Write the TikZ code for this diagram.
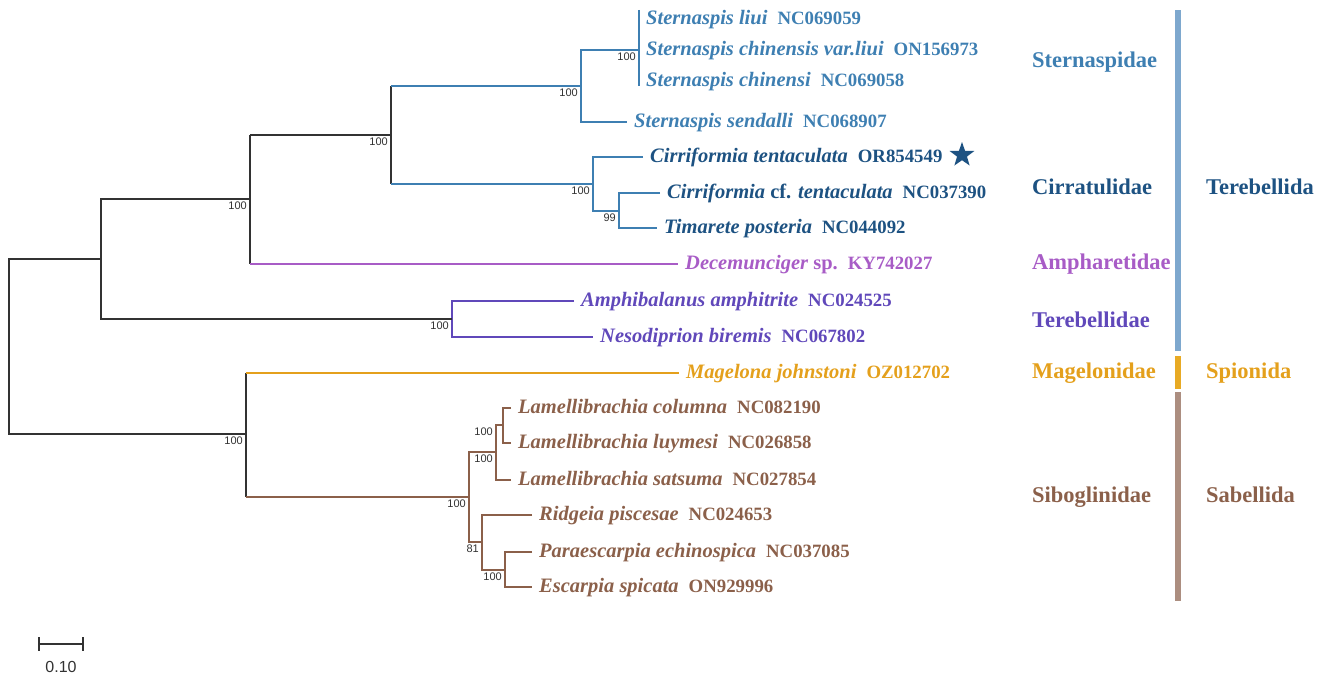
\documentclass[tikz,border=0pt]{standalone}
\usepackage{fontspec}
\setmainfont{Liberation Serif}
\newfontfamily\supfont{Liberation Sans}
\usepackage{tikz}
\usetikzlibrary{shapes,arrows}

\definecolor{sterna}{RGB}{62,127,178}
\definecolor{cirra}{RGB}{29,82,130}
\definecolor{amph}{RGB}{168,92,198}
\definecolor{tereb}{RGB}{96,72,186}
\definecolor{mage}{RGB}{228,160,28}
\definecolor{sibo}{RGB}{139,96,74}
\definecolor{treeline}{RGB}{50,50,50}
\definecolor{barblue}{RGB}{126,168,206}
\definecolor{barorange}{RGB}{232,170,36}
\definecolor{barbrown}{RGB}{172,142,128}

\newcommand{\taxon}[2]{{\fontsize{20.5}{22}\selectfont\bfseries\itshape #1}\hspace{10pt}{\fontsize{18.8}{20}\selectfont\bfseries #2}}

\begin{document}
\begin{tikzpicture}[x=1pt,y=-1pt]
    \tikzset{
        leaf/.style={anchor=west, inner xsep=7pt, inner ysep=0pt, text height=14.5pt, text depth=4.5pt},
        fam/.style={anchor=west, inner sep=0pt, text height=15pt, text depth=5pt, font=\fontsize{22.5}{24}\selectfont\bfseries},
        sup/.style={anchor=north east, inner sep=0pt, xshift=-3pt, yshift=-3pt, text=treeline, font=\supfont\fontsize{11}{12}\selectfont},
        line/.style={draw, treeline, line width=1.5pt},
    };
    \useasboundingbox (0,0) rectangle (1326,677);

    \node [leaf, text=sterna] (sliui) at (639,20) {\taxon{Sternaspis liui}{NC069059}};
    \node [leaf, text=sterna] (schv) at (639,51) {\taxon{Sternaspis chinensis var.liui}{ON156973}};
    \node [leaf, text=sterna] (schi) at (639,82) {\taxon{Sternaspis chinensi}{NC069058}};
    \node [leaf, text=sterna] (ssen) at (627,122) {\taxon{Sternaspis sendalli}{NC068907}};
    \node [leaf, text=cirra] (cten) at (643,157) {\taxon{Cirriformia tentaculata}{OR854549}};
    \node [leaf, text=cirra] (ccf) at (660,193) {\taxon{Cirriformia \upshape cf. \itshape tentaculata}{NC037390}};
    \node [leaf, text=cirra] (tpos) at (657,228) {\taxon{Timarete posteria}{NC044092}};
    \node [leaf, text=amph] (dece) at (678,264) {\taxon{Decemunciger \upshape sp.}{KY742027}};
    \node [leaf, text=tereb] (aamp) at (574,301) {\taxon{Amphibalanus amphitrite}{NC024525}};
    \node [leaf, text=tereb] (nbir) at (593,337) {\taxon{Nesodiprion biremis}{NC067802}};
    \node [leaf, text=mage] (mjoh) at (679,373) {\taxon{Magelona johnstoni}{OZ012702}};
    \node [leaf, text=sibo] (lcol) at (511,408) {\taxon{Lamellibrachia columna}{NC082190}};
    \node [leaf, text=sibo] (lluy) at (511,443) {\taxon{Lamellibrachia luymesi}{NC026858}};
    \node [leaf, text=sibo] (lsat) at (511,480) {\taxon{Lamellibrachia satsuma}{NC027854}};
    \node [leaf, text=sibo] (rpis) at (532,515) {\taxon{Ridgeia piscesae}{NC024653}};
    \node [leaf, text=sibo] (pech) at (532,552) {\taxon{Paraescarpia echinospica}{NC037085}};
    \node [leaf, text=sibo] (espi) at (532,587) {\taxon{Escarpia spicata}{ON929996}};
    \node [star, star points=5, star point ratio=2.5, fill=cirra, minimum size=26pt, inner sep=0pt] (newseq) at (962,155) {};

    \coordinate (stop) at (639,10);
    \coordinate (sbot) at (639,86);
    \coordinate (s1) at (639,50);
    \coordinate (s2) at (581,86);
    \coordinate (c1) at (619,211);
    \coordinate (c2) at (593,184);
    \coordinate (sc) at (391,135);
    \coordinate (sca) at (250,199);
    \coordinate (tr) at (452,319);
    \coordinate (ta) at (101,259);
    \coordinate (l1) at (503,425);
    \coordinate (l2) at (496,452);
    \coordinate (e1) at (505,570);
    \coordinate (r1) at (482,542);
    \coordinate (sb) at (469,497);
    \coordinate (ms) at (246,434);
    \coordinate (root) at (9,346);

    \path [line, sterna] (stop) -- (sbot);
    \path [line, sterna] (s1) -| (s2) |- (ssen.west);
    \path [line, sterna] (ccf.west) -| (c1) |- (tpos.west);
    \path [line, sterna] (cten.west) -| (c2) |- (c1);
    \path [line] (sc |- s2) -- (sc |- c2);
    \path [line, sterna] (sc |- s2) -- (s2);
    \path [line, sterna] (sc |- c2) -- (c2);
    \path [line] (sca |- sc) -- (sca |- dece.west);
    \path [line] (sca |- sc) -- (sc);
    \path [line, amph] (sca |- dece.west) -- (dece.west);
    \path [line, tereb] (aamp.west) -| (tr) |- (nbir.west);
    \path [line] (sca) -| (ta) |- (tr);
    \path [line, sibo] (lcol.west) -| (l1) |- (lluy.west);
    \path [line, sibo] (l1) -| (l2) |- (lsat.west);
    \path [line, sibo] (pech.west) -| (e1) |- (espi.west);
    \path [line, sibo] (rpis.west) -| (r1) |- (e1);
    \path [line, sibo] (l2) -| (sb) |- (r1);
    \path [line] (ms |- mjoh.west) -- (ms |- sb);
    \path [line, mage] (ms |- mjoh.west) -- (mjoh.west);
    \path [line, sibo] (ms |- sb) -- (sb);
    \path [line] (ta) -| (root) |- (ms);

    \node [sup] at (s1) {100};
    \node [sup] at (s2) {100};
    \node [sup] at (c2) {100};
    \node [sup] at (c1) {99};
    \node [sup] at (sc) {100};
    \node [sup] at (sca) {100};
    \node [sup] at (tr) {100};
    \node [sup] at (ms) {100};
    \node [sup] at (sb) {100};
    \node [sup] at (l2) {100};
    \node [sup, xshift=-7pt] at (l1) {100};
    \node [sup] at (r1) {81};
    \node [sup] at (e1) {100};

    \node [fam, text=sterna] (fsterna) at (1032,62) {Sternaspidae};
    \node [fam, text=cirra] (fcirra) at (1032,189) {Cirratulidae};
    \node [fam, text=amph] (famph) at (1032,264) {Ampharetidae};
    \node [fam, text=tereb] (ftereb) at (1032,322) {Terebellidae};
    \node [fam, text=mage] (fmage) at (1032,373) {Magelonidae};
    \node [fam, text=sibo] (fsibo) at (1032,497) {Siboglinidae};
    \node [fam, text=cirra] (oterebellida) at (1206,189) {Terebellida};
    \node [fam, text=mage] (ospionida) at (1206,373) {Spionida};
    \node [fam, text=sibo] (osabellida) at (1206,497) {Sabellida};

    \fill [barblue] (1175,10) rectangle (1181,351);
    \fill [barorange] (1175,356) rectangle (1181,389);
    \fill [barbrown] (1175,392) rectangle (1181,601);

    \coordinate (scl) at (39,644);
    \coordinate (scr) at (83,644);
    \path [line] (scl) -- (scr);
    \path [line] ([yshift=7pt]scl) -- ([yshift=-7pt]scl);
    \path [line] ([yshift=7pt]scr) -- ([yshift=-7pt]scr);
    \node [text=treeline, font=\supfont\fontsize{16}{18}\selectfont] (scale) at (61,667) {0.10};
\end{tikzpicture}
\end{document}
